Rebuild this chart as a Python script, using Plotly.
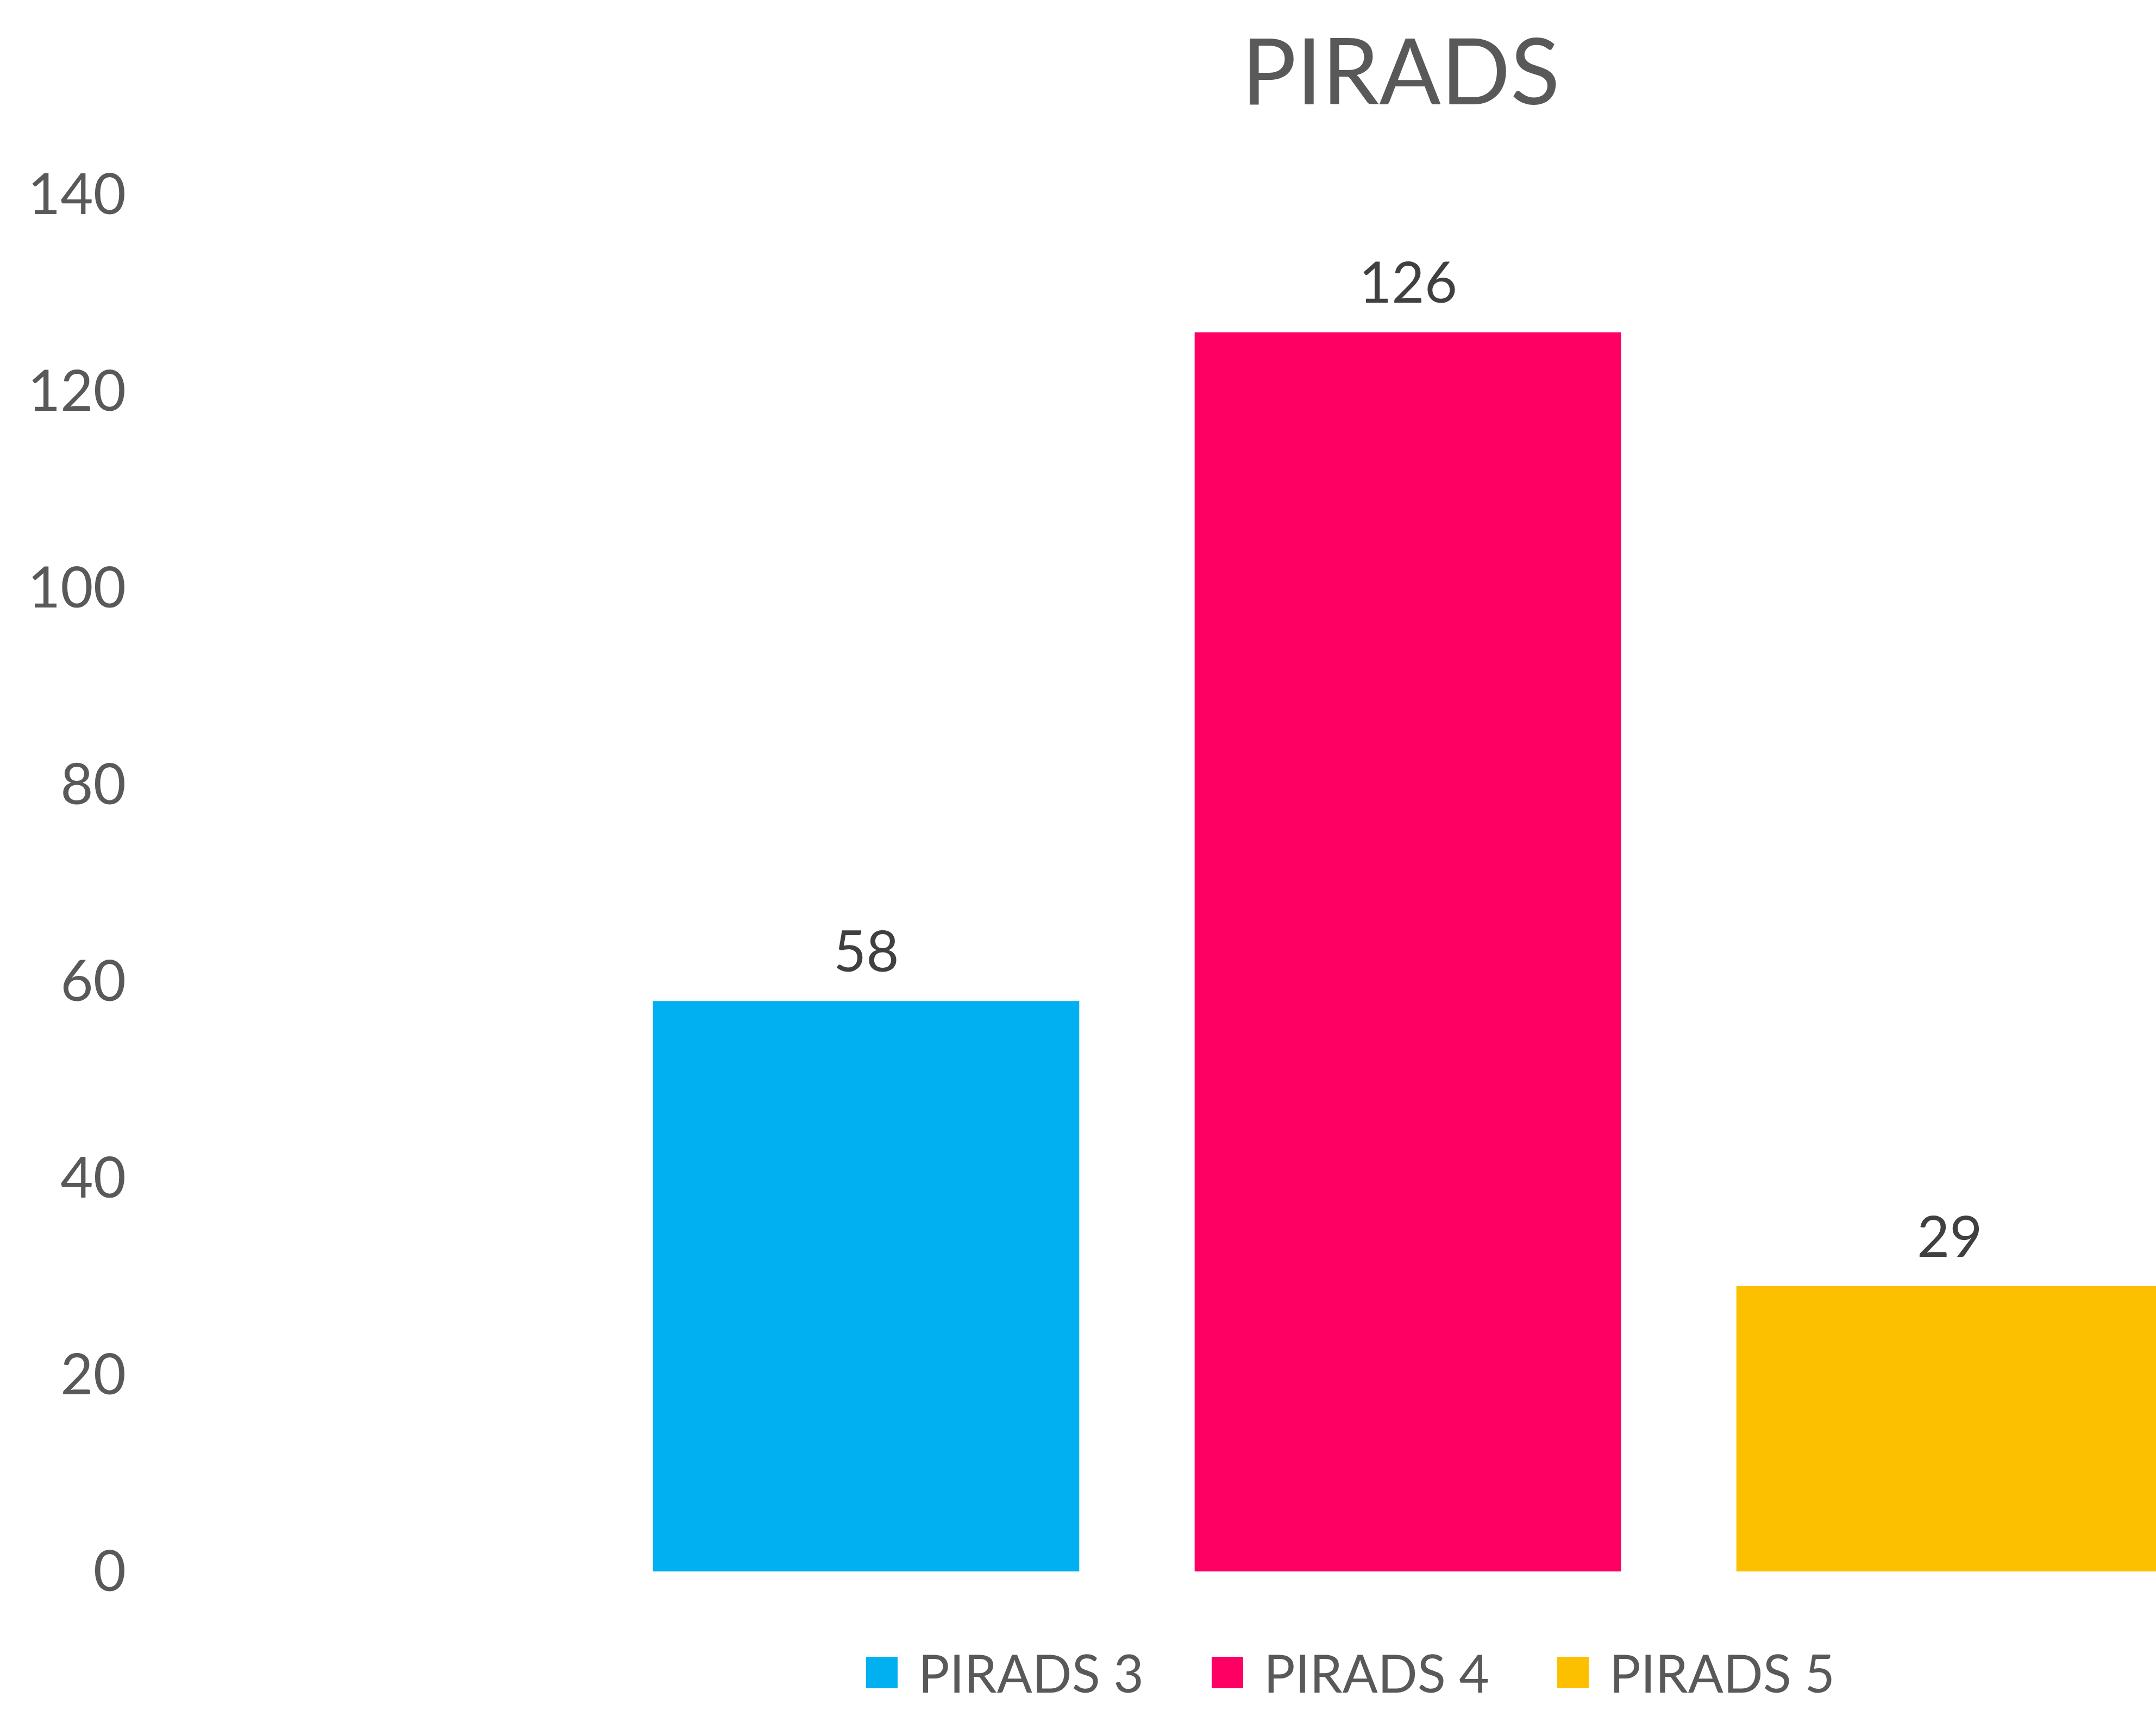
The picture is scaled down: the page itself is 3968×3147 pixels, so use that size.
import plotly.graph_objects as go

categories = ["PIRADS 3", "PIRADS 4", "PIRADS 5"]
values = [58, 126, 29]
colors = ["#00B0F0", "#FE0064", "#FCC000"]
y_ticks = [0, 20, 40, 60, 80, 100, 120, 140]

W, H = 3968, 3147
ML, MT, MB = 245, 358, 255
PW, PH = W - ML, H - MT - MB
# category layout in pixels (reference is cropped on the right)
c0_px, step_px = 1594, 997
x_lo = -0.5 - (c0_px - step_px / 2 - ML) / step_px
x_hi = (W - c0_px) / step_px

# legend geometry (pixels)
ITEMW = 124            # symbol area -> text gap = ITEMW + 10
SYM_C = (ITEMW + 10) / 2
LEG_STEP = 636
LEG_X0 = 1623          # centre of first swatch
LEG_Y = 3078
SW = 58

FONT = "Lato"
fig = go.Figure()
for c, v, col in zip(categories, values, colors):
    fig.add_trace(go.Bar(x=[c], y=[v], name=c, marker=dict(color=col, line=dict(width=0))))

for c, v in zip(categories, values):
    fig.add_annotation(x=c, y=v, text=str(v), showarrow=False, yanchor="bottom", yshift=30,
                       font=dict(family=FONT, size=104, color="#404040"))

# enlarge legend swatches (drawn under the native legend symbols)
for i, col in enumerate(colors):
    cx = LEG_X0 + i * LEG_STEP
    fig.add_shape(type="rect", xref="paper", yref="paper", layer="above",
                  x0=(cx - SW / 2 - ML) / PW, x1=(cx + SW / 2 - ML) / PW,
                  y0=(H - MB - (LEG_Y + SW / 2)) / PH, y1=(H - MB - (LEG_Y - SW / 2)) / PH,
                  fillcolor=col, line=dict(width=0))

fig.update_layout(
    width=W, height=H,
    margin=dict(l=ML, r=0, t=MT, b=MB, pad=0, autoexpand=False),
    paper_bgcolor="white", plot_bgcolor="white",
    barmode="overlay", bargap=0.213,
    title=dict(text="PIRADS", x=2578 / W, xanchor="center", y=1 - 133 / H, yanchor="middle",
               font=dict(family=FONT, size=168, color="#595959")),
    showlegend=True,
    legend=dict(orientation="h", x=(LEG_X0 - SYM_C - ML) / PW, xanchor="left",
                y=(H - MB - LEG_Y) / PH, yanchor="middle",
                font=dict(family=FONT, size=96, color="#595959"), itemwidth=ITEMW,
                entrywidth=LEG_STEP - (ITEMW + 10) - 5, entrywidthmode="pixels",
                borderwidth=0, traceorder="normal", bgcolor="rgba(0,0,0,0)"),
)
fig.update_xaxes(type="category", categoryorder="array", categoryarray=categories,
                 range=[x_lo, x_hi], showticklabels=False, showgrid=False, zeroline=False,
                 showline=False, ticks="")
fig.update_yaxes(range=[0, 140], tickvals=y_ticks, showgrid=False, zeroline=False, showline=False,
                 ticks="", ticklabelstandoff=12,
                 tickfont=dict(family=FONT, size=104, color="#595959"))

fig.write_html("out.html")
